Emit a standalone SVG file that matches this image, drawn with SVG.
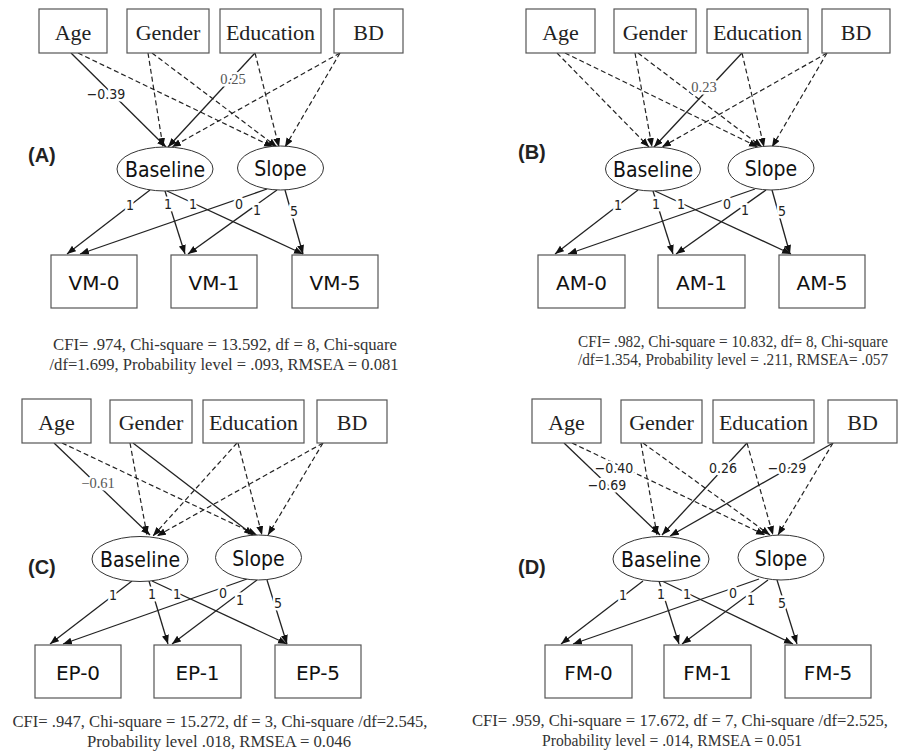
<svg xmlns="http://www.w3.org/2000/svg" width="904" height="752" viewBox="0 0 904 752">
<style>
.bg{fill:#fff}
.box{fill:#fff;stroke:#555;stroke-width:1.2}
.ell{fill:#fff;stroke:#333;stroke-width:1}
.tser{font-family:"Liberation Serif","Times New Roman",serif;font-size:22px;fill:#222;text-anchor:middle}
.tobs{font-family:"DejaVu Sans","Verdana",sans-serif;font-size:20px;fill:#111;text-anchor:middle}
.tlat{font-family:"DejaVu Sans Condensed","DejaVu Sans",sans-serif;font-stretch:condensed;font-size:21px;fill:#111;text-anchor:middle}
.pl{font-family:"Liberation Sans",Arial,sans-serif;font-weight:bold;font-size:20px;fill:#222}
.st{font-family:"Liberation Serif","Times New Roman",serif;font-size:16px;fill:#333}
.lab{font-family:"DejaVu Sans Condensed","DejaVu Sans",sans-serif;font-stretch:condensed;font-size:14px;fill:#222;text-anchor:middle;paint-order:stroke;stroke:#fff;stroke-width:5px;stroke-linejoin:round}
.labs{font-family:"Liberation Serif","Times New Roman",serif;font-size:14.5px;fill:#555;text-anchor:middle;paint-order:stroke;stroke:#fff;stroke-width:5px;stroke-linejoin:round}
.s{stroke:#222;stroke-width:1.3;fill:none;marker-end:url(#ah)}
.d{stroke:#222;stroke-width:1.2;fill:none;stroke-dasharray:5 3;marker-end:url(#ah)}
</style>
<defs>
<marker id="ah" markerUnits="userSpaceOnUse" markerWidth="10" markerHeight="8" refX="9" refY="3.5" orient="auto">
<path d="M0,0 L9,3.5 L0,7 z" fill="#111"/>
</marker>
</defs>
<rect class="bg" x="0" y="0" width="904" height="752"/>

<g id="connectors">
<!-- Panel A top -->
<line class="s" x1="71" y1="53" x2="166" y2="147"/>
<line class="d" x1="78" y1="53" x2="273" y2="147"/>
<line class="d" x1="148" y1="53" x2="163" y2="147"/>
<line class="d" x1="152" y1="53" x2="277" y2="147"/>
<line class="s" x1="255" y1="53" x2="168" y2="147"/>
<line class="d" x1="255" y1="53" x2="279" y2="147"/>
<line class="d" x1="340" y1="53" x2="172" y2="147"/>
<line class="d" x1="340" y1="53" x2="285" y2="147"/>
<!-- Panel A bottom -->
<line class="s" x1="150" y1="190" x2="67" y2="254"/>
<line class="s" x1="165" y1="191" x2="185" y2="254"/>
<line class="s" x1="167" y1="191" x2="303" y2="254"/>
<line class="s" x1="267" y1="189" x2="80" y2="254"/>
<line class="s" x1="277" y1="190" x2="188" y2="254"/>
<line class="s" x1="285" y1="190" x2="303" y2="254"/>

<!-- Panel B top -->
<line class="d" x1="557" y1="53" x2="649" y2="147"/>
<line class="d" x1="565" y1="53" x2="758" y2="147"/>
<line class="d" x1="635" y1="53" x2="652" y2="147"/>
<line class="d" x1="638" y1="53" x2="762" y2="147"/>
<line class="s" x1="742" y1="53" x2="654" y2="147"/>
<line class="d" x1="742" y1="53" x2="764" y2="147"/>
<line class="d" x1="827" y1="53" x2="662" y2="147"/>
<line class="d" x1="827" y1="53" x2="772" y2="147"/>
<!-- Panel B bottom -->
<line class="s" x1="638" y1="190" x2="555" y2="254"/>
<line class="s" x1="653" y1="191" x2="673" y2="254"/>
<line class="s" x1="655" y1="191" x2="791" y2="254"/>
<line class="s" x1="755" y1="189" x2="568" y2="254"/>
<line class="s" x1="766" y1="190" x2="676" y2="254"/>
<line class="s" x1="772" y1="190" x2="790" y2="254"/>

<!-- Panel C top -->
<line class="s" x1="54" y1="443" x2="150" y2="535"/>
<line class="d" x1="62" y1="443" x2="257" y2="535"/>
<line class="d" x1="130" y1="443" x2="147" y2="535"/>
<line class="s" x1="133" y1="443" x2="253" y2="535"/>
<line class="d" x1="237" y1="443" x2="153" y2="536"/>
<line class="d" x1="238" y1="443" x2="262" y2="535"/>
<line class="d" x1="323" y1="443" x2="157" y2="536"/>
<line class="d" x1="323" y1="443" x2="268" y2="535"/>
<!-- Panel C bottom -->
<line class="s" x1="132" y1="581" x2="50" y2="644"/>
<line class="s" x1="149" y1="581" x2="168" y2="644"/>
<line class="s" x1="152" y1="581" x2="287" y2="644"/>
<line class="s" x1="247" y1="579" x2="63" y2="644"/>
<line class="s" x1="257" y1="580" x2="172" y2="644"/>
<line class="s" x1="267" y1="580" x2="287" y2="644"/>

<!-- Panel D top -->
<line class="s" x1="564" y1="443" x2="660" y2="535"/>
<line class="d" x1="572" y1="443" x2="765" y2="535"/>
<line class="d" x1="641" y1="443" x2="657" y2="535"/>
<line class="d" x1="643" y1="443" x2="770" y2="535"/>
<line class="s" x1="747" y1="443" x2="662" y2="535"/>
<line class="d" x1="747" y1="443" x2="773" y2="535"/>
<line class="s" x1="833" y1="443" x2="670" y2="536"/>
<line class="d" x1="833" y1="443" x2="778" y2="535"/>
<!-- Panel D bottom -->
<line class="s" x1="643" y1="581" x2="561" y2="644"/>
<line class="s" x1="659" y1="581" x2="679" y2="644"/>
<line class="s" x1="662" y1="581" x2="793" y2="644"/>
<line class="s" x1="759" y1="579" x2="573" y2="644"/>
<line class="s" x1="768" y1="580" x2="682" y2="644"/>
<line class="s" x1="777" y1="580" x2="797" y2="644"/>

<!-- edge labels -->
<text class="lab" x="106" y="99">−0.39</text>
<text class="labs" x="233" y="84">0.25</text>
<text class="lab" x="130" y="210">1</text>
<text class="lab" x="168" y="209">1</text>
<text class="lab" x="193" y="209">1</text>
<text class="lab" x="239" y="209">0</text>
<text class="lab" x="257" y="215">1</text>
<text class="lab" x="294" y="216">5</text>

<text class="labs" x="704" y="92">0.23</text>
<text class="lab" x="618" y="210">1</text>
<text class="lab" x="656" y="209">1</text>
<text class="lab" x="681" y="209">1</text>
<text class="lab" x="727" y="209">0</text>
<text class="lab" x="745" y="215">1</text>
<text class="lab" x="782" y="216">5</text>

<text class="labs" x="98" y="488">−0.61</text>
<text class="lab" x="113" y="600">1</text>
<text class="lab" x="152" y="599">1</text>
<text class="lab" x="177" y="599">1</text>
<text class="lab" x="223" y="598">0</text>
<text class="lab" x="240" y="605">1</text>
<text class="lab" x="278" y="608">5</text>

<text class="lab" x="614" y="473">−0.40</text>
<text class="lab" x="607" y="490">−0.69</text>
<text class="lab" x="723" y="473">0.26</text>
<text class="lab" x="787" y="473">−0.29</text>
<text class="lab" x="623" y="600">1</text>
<text class="lab" x="661" y="599">1</text>
<text class="lab" x="687" y="599">1</text>
<text class="lab" x="733" y="598">0</text>
<text class="lab" x="751" y="605">1</text>
<text class="lab" x="782" y="608">5</text>
</g>

<!-- Panel A nodes -->
<g id="A-age"><rect class="box" x="39" y="9" width="68" height="44"/><text class="tser" x="73" y="40">Age</text></g>
<g id="A-gender"><rect class="box" x="127" y="9" width="82" height="44"/><text class="tser" x="168" y="40">Gender</text></g>
<g id="A-education"><rect class="box" x="220" y="9" width="101" height="44"/><text class="tser" x="270.5" y="40">Education</text></g>
<g id="A-bd"><rect class="box" x="334" y="9" width="69" height="44"/><text class="tser" x="368.5" y="40">BD</text></g>
<g id="A-baseline"><ellipse class="ell" cx="165" cy="169" rx="48" ry="22"/><text class="tlat" x="165" y="177">Baseline</text></g>
<g id="A-slope"><ellipse class="ell" cx="280.5" cy="168" rx="43" ry="22"/><text class="tlat" x="280.5" y="176">Slope</text></g>
<g id="A-vm0"><rect class="box" x="51" y="255" width="86" height="53"/><text class="tobs" x="94" y="290">VM-0</text></g>
<g id="A-vm1"><rect class="box" x="171" y="255" width="86" height="53"/><text class="tobs" x="214" y="290">VM-1</text></g>
<g id="A-vm5"><rect class="box" x="292" y="255" width="86" height="53"/><text class="tobs" x="335" y="290">VM-5</text></g>
<g id="A-label"><text class="pl" x="28" y="162">(A)</text></g>
<g id="A-fit">
<text class="st" x="225" y="350" text-anchor="middle" textLength="344" lengthAdjust="spacingAndGlyphs">CFI= .974, Chi-square = 13.592, df = 8, Chi-square</text>
<text class="st" x="224" y="370" text-anchor="middle" textLength="349" lengthAdjust="spacingAndGlyphs">/df=1.699, Probability level = .093, RMSEA = 0.081</text>
</g>

<!-- Panel B nodes -->
<g id="B-age"><rect class="box" x="526" y="9" width="69" height="44"/><text class="tser" x="560.5" y="40">Age</text></g>
<g id="B-gender"><rect class="box" x="614" y="9" width="82" height="44"/><text class="tser" x="655" y="40">Gender</text></g>
<g id="B-education"><rect class="box" x="707" y="9" width="101" height="44"/><text class="tser" x="757.5" y="40">Education</text></g>
<g id="B-bd"><rect class="box" x="822" y="9" width="68" height="44"/><text class="tser" x="856" y="40">BD</text></g>
<g id="B-baseline"><ellipse class="ell" cx="653" cy="169" rx="47.5" ry="22"/><text class="tlat" x="653" y="177">Baseline</text></g>
<g id="B-slope"><ellipse class="ell" cx="771" cy="168" rx="43" ry="22"/><text class="tlat" x="771" y="176">Slope</text></g>
<g id="B-am0"><rect class="box" x="538" y="255" width="87" height="53"/><text class="tobs" x="581.5" y="290">AM-0</text></g>
<g id="B-am1"><rect class="box" x="658" y="255" width="87" height="53"/><text class="tobs" x="701.5" y="290">AM-1</text></g>
<g id="B-am5"><rect class="box" x="779" y="255" width="86" height="53"/><text class="tobs" x="822" y="290">AM-5</text></g>
<g id="B-label"><text class="pl" x="518" y="159">(B)</text></g>
<g id="B-fit">
<text class="st" x="578" y="347" textLength="310" lengthAdjust="spacingAndGlyphs">CFI= .982, Chi-square = 10.832, df= 8, Chi-square</text>
<text class="st" x="578" y="364.5" textLength="310" lengthAdjust="spacingAndGlyphs">/df=1.354, Probability level = .211, RMSEA= .057</text>
</g>

<!-- Panel C nodes -->
<g id="C-age"><rect class="box" x="22" y="399" width="69" height="44"/><text class="tser" x="56.5" y="430">Age</text></g>
<g id="C-gender"><rect class="box" x="110" y="400" width="82" height="43"/><text class="tser" x="151" y="430">Gender</text></g>
<g id="C-education"><rect class="box" x="203" y="400" width="101" height="43"/><text class="tser" x="253.5" y="430">Education</text></g>
<g id="C-bd"><rect class="box" x="317" y="400" width="70" height="43"/><text class="tser" x="352" y="430">BD</text></g>
<g id="C-baseline"><ellipse class="ell" cx="140" cy="559" rx="48" ry="22.5"/><text class="tlat" x="140" y="567">Baseline</text></g>
<g id="C-slope"><ellipse class="ell" cx="258.5" cy="557.5" rx="43" ry="22.5"/><text class="tlat" x="258.5" y="565.5">Slope</text></g>
<g id="C-ep0"><rect class="box" x="35" y="645" width="86" height="53"/><text class="tobs" x="78" y="680">EP-0</text></g>
<g id="C-ep1"><rect class="box" x="154" y="645" width="87" height="53"/><text class="tobs" x="197.5" y="680">EP-1</text></g>
<g id="C-ep5"><rect class="box" x="275" y="645" width="86" height="53"/><text class="tobs" x="318" y="680">EP-5</text></g>
<g id="C-label"><text class="pl" x="28" y="574">(C)</text></g>
<g id="C-fit">
<text class="st" x="220" y="727" text-anchor="middle" textLength="415" lengthAdjust="spacingAndGlyphs">CFI= .947, Chi-square = 15.272, df = 3, Chi-square /df=2.545,</text>
<text class="st" x="219" y="747" text-anchor="middle" textLength="264" lengthAdjust="spacingAndGlyphs">Probability level .018, RMSEA = 0.046</text>
</g>

<!-- Panel D nodes -->
<g id="D-age"><rect class="box" x="532" y="399" width="69" height="44"/><text class="tser" x="566.5" y="430">Age</text></g>
<g id="D-gender"><rect class="box" x="621" y="400" width="81" height="43"/><text class="tser" x="661.5" y="430">Gender</text></g>
<g id="D-education"><rect class="box" x="713" y="400" width="101" height="43"/><text class="tser" x="763.5" y="430">Education</text></g>
<g id="D-bd"><rect class="box" x="828" y="400" width="69" height="43"/><text class="tser" x="862.5" y="430">BD</text></g>
<g id="D-baseline"><ellipse class="ell" cx="661" cy="559" rx="48" ry="22.5"/><text class="tlat" x="661" y="567">Baseline</text></g>
<g id="D-slope"><ellipse class="ell" cx="781" cy="557.5" rx="43" ry="22.5"/><text class="tlat" x="781" y="565.5">Slope</text></g>
<g id="D-fm0"><rect class="box" x="545" y="645" width="87" height="53"/><text class="tobs" x="588.5" y="680">FM-0</text></g>
<g id="D-fm1"><rect class="box" x="664" y="645" width="87" height="53"/><text class="tobs" x="707.5" y="680">FM-1</text></g>
<g id="D-fm5"><rect class="box" x="785" y="645" width="86" height="53"/><text class="tobs" x="828" y="680">FM-5</text></g>
<g id="D-label"><text class="pl" x="518" y="574">(D)</text></g>
<g id="D-fit">
<text class="st" x="680" y="726" text-anchor="middle" textLength="416" lengthAdjust="spacingAndGlyphs">CFI= .959, Chi-square = 17.672, df = 7, Chi-square /df=2.525,</text>
<text class="st" x="672" y="746" text-anchor="middle" textLength="260" lengthAdjust="spacingAndGlyphs">Probability level = .014, RMSEA = 0.051</text>
</g>
</svg>
